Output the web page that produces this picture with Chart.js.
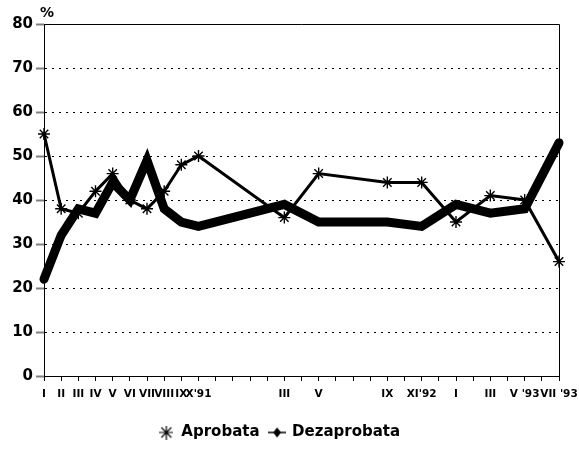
<!DOCTYPE html>
<html>
<head>
<meta charset="utf-8">
<script src="https://cdn.jsdelivr.net/npm/chart.js@4"></script>
<style>
  html, body { margin: 0; padding: 0; background: #fff; }
  #wrap { width: 579px; height: 450px; }
</style>
</head>
<body>
<div id="wrap"><canvas id="chart"></canvas></div>
<script>
// luni ian '91 - iul '93, eticheta doar unde exista sondaj
const months = ['I', 'II', 'III', 'IV', 'V', 'VI', 'VII', 'VIII', 'IX', "X'91",
  '', '', '', '', 'III', '', 'V', '', '', '', 'IX', '', "XI'92", '',
  'I', '', 'III', '', "V '93", '', "VII '93"];

const aprobata = [55, 38, 37, 42, 46, 40, 38, 42, 48, 50,
  null, null, null, null, 36, null, 46, null, null, null, 44, null, 44, null,
  35, null, 41, null, 40, null, 26];

const dezaprobata = [22, 32, 38, 37, 44, 40, 49, 38, 35, 34,
  null, null, null, null, 39, null, 35, null, null, null, 35, null, 34, null,
  39, null, 37, null, 38, null, 53];

const yTicks = [0, 10, 20, 30, 40, 50, 60, 70, 80];

const FONT = '"DejaVu Sans", sans-serif';

// markerele din legenda
function starIcon() {
    const c = document.createElement('canvas');
    c.width = 14; c.height = 14;
    const g = c.getContext('2d');
    g.strokeStyle = '#000';
    g.lineWidth = 1.2;
    g.beginPath();
    g.moveTo(7, 0); g.lineTo(7, 14);
    g.moveTo(0, 7); g.lineTo(14, 7);
    g.moveTo(2, 2); g.lineTo(12, 12);
    g.moveTo(12, 2); g.lineTo(2, 12);
    g.stroke();
    return c;
}

function diamondIcon() {
    const c = document.createElement('canvas');
    c.width = 18; c.height = 12;
    const g = c.getContext('2d');
    g.strokeStyle = '#000';
    g.fillStyle = '#000';
    g.lineWidth = 1.5;
    g.beginPath();
    g.moveTo(0, 6); g.lineTo(18, 6);
    g.stroke();
    g.beginPath();
    g.moveTo(9, 1); g.lineTo(13, 6); g.lineTo(9, 11); g.lineTo(5, 6);
    g.closePath();
    g.fill();
    return c;
}

const icons = [starIcon(), diamondIcon()];

const frame = {
    id: 'frame',
    afterDraw(chart) {
        const {ctx, chartArea: a} = chart;
        ctx.save();
        ctx.strokeStyle = '#000';
        ctx.lineWidth = 1;
        ctx.beginPath();
        ctx.moveTo(a.left, a.top + 0.5);
        ctx.lineTo(a.right + 0.5, a.top + 0.5);
        ctx.lineTo(a.right + 0.5, a.bottom);
        ctx.stroke();
        ctx.fillStyle = '#000';
        ctx.font = 'bold 14px ' + FONT;
        ctx.textBaseline = 'middle';
        ctx.fillText('%', 40, 13);
        ctx.restore();
    }
};

new Chart(document.getElementById('chart'), {
    type: 'line',
    data: {
        labels: months,
        datasets: [{
            label: 'Aprobata',
            data: aprobata,
            borderColor: '#000',
            backgroundColor: '#000',
            borderWidth: 3,
            pointStyle: 'star',
            pointRadius: 6,
            pointBorderWidth: 1.4,
            pointBorderColor: '#000',
            spanGaps: true,
            tension: 0,
            clip: false
        }, {
            label: 'Dezaprobata',
            data: dezaprobata,
            borderColor: '#000',
            backgroundColor: '#000',
            borderWidth: 9,
            borderJoinStyle: 'miter',
            borderCapStyle: 'round',
            pointRadius: 0,
            spanGaps: true,
            tension: 0,
            clip: false
        }]
    },
    options: {
        responsive: true,
        maintainAspectRatio: false,
        animation: false,
        layout: {
            padding: { top: 24, right: 20, left: 0, bottom: 0 }
        },
        plugins: {
            title: { display: false },
            tooltip: { enabled: false },
            legend: {
                display: true,
                position: 'bottom',
                labels: {
                    color: '#000',
                    usePointStyle: true,
                    padding: 10,
                    font: { family: FONT, size: 15, weight: 'bold' },
                    generateLabels(chart) {
                        return chart.data.datasets.map((ds, i) => ({
                            text: ds.label,
                            fontColor: '#000',
                            pointStyle: icons[i],
                            strokeStyle: '#000',
                            fillStyle: '#000',
                            lineWidth: 0,
                            datasetIndex: i,
                            hidden: false
                        }));
                    }
                }
            }
        },
        scales: {
            x: {
                type: 'category',
                offset: false,
                afterFit(scale) {
                    scale.height = 39;
                    // ultima eticheta iese din cadru, ca in original
                    scale.paddingRight = 0;
                    scale.paddingLeft = 0;
                },
                grid: {
                    drawOnChartArea: false,
                    drawTicks: true,
                    tickLength: 5,
                    tickColor: '#000',
                    lineWidth: 1
                },
                border: { display: true, color: '#000', width: 1 },
                ticks: {
                    autoSkip: false,
                    maxRotation: 0,
                    minRotation: 0,
                    padding: 7,
                    color: '#000',
                    font: { family: FONT, size: 10.5, weight: 'bold' }
                }
            },
            y: {
                min: 0,
                max: 80,
                afterFit(scale) { scale.width = 44; },
                afterBuildTicks(scale) {
                    scale.ticks = yTicks.map(v => ({ value: v }));
                },
                grid: {
                    color: '#000',
                    lineWidth: 1,
                    drawTicks: true,
                    tickLength: 8,
                    tickColor: '#808080',
                    tickWidth: 2
                },
                border: { display: true, color: '#000', width: 1, dash: [2, 5] },
                ticks: {
                    padding: 3,
                    color: '#000',
                    font: { family: FONT, size: 15, weight: 'bold' }
                }
            }
        }
    },
    plugins: [frame]
});
</script>
</body>
</html>
